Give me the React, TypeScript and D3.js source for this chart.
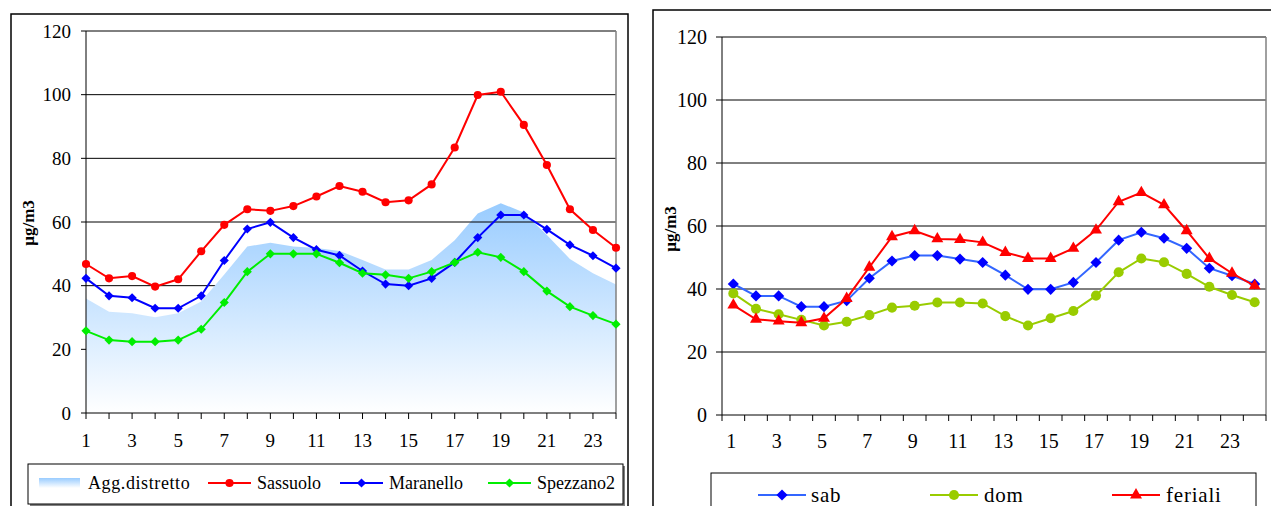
import React from "react";
import * as d3 from "d3";

const hours = d3.range(1, 25);
const yTicks = [0, 20, 40, 60, 80, 100, 120];
const xTickLabels = [1, 3, 5, 7, 9, 11, 13, 15, 17, 19, 21, 23];

// Left chart
const aggDistretto = [36.0, 31.8, 31.3, 30.1, 31.3, 35.0, 43.5, 52.3, 53.5, 52.3, 51.8, 50.9, 48.1, 45.1, 45.1, 48.1, 54.3, 62.7, 65.9, 63.0, 55.9, 48.4, 43.9, 40.4];
const sassuolo = [46.8, 42.3, 43.0, 39.7, 42.0, 50.8, 59.1, 64.0, 63.5, 65.0, 68.0, 71.3, 69.5, 66.2, 66.8, 71.8, 83.4, 99.9, 100.9, 90.5, 77.9, 64.0, 57.5, 51.9];
const maranello = [42.3, 36.8, 36.2, 32.9, 32.9, 36.8, 47.9, 57.8, 59.9, 55.1, 51.3, 49.5, 44.6, 40.5, 40.0, 42.3, 47.3, 55.1, 62.2, 62.2, 57.7, 52.8, 49.4, 45.5];
const spezzano2 = [25.8, 22.9, 22.4, 22.4, 22.9, 26.3, 34.7, 44.4, 50.0, 50.0, 50.0, 47.2, 43.9, 43.4, 42.3, 44.4, 47.3, 50.5, 48.9, 44.4, 38.3, 33.4, 30.6, 27.9];

// Right chart
const sab = [41.6, 37.8, 37.8, 34.4, 34.4, 36.3, 43.4, 48.9, 50.6, 50.6, 49.5, 48.4, 44.4, 39.9, 39.9, 42.1, 48.4, 55.5, 58.0, 56.1, 52.9, 46.6, 44.2, 41.6];
const dom = [38.6, 33.7, 32.0, 30.2, 28.4, 29.6, 31.7, 34.1, 34.7, 35.7, 35.7, 35.4, 31.4, 28.4, 30.7, 33.0, 37.9, 45.3, 49.7, 48.5, 44.8, 40.7, 38.1, 35.8];
const feriali = [34.9, 30.4, 29.8, 29.3, 30.7, 37.0, 46.9, 56.6, 58.5, 55.9, 55.7, 54.8, 51.6, 49.7, 49.7, 52.9, 58.7, 67.7, 70.6, 66.7, 58.5, 49.7, 45.0, 41.0];

const FONT = "'Liberation Serif', 'Times New Roman', serif";

function Marker({ type, x, y, color, size }: { type: string; x: number; y: number; color: string; size: number }) {
  if (type === "diamond") {
    const p = d3.symbol().type(d3.symbolSquare).size(size)();
    return <path d={p || ""} transform={`translate(${x},${y}) rotate(45)`} fill={color} />;
  }
  if (type === "triangle") {
    const p = d3.symbol().type(d3.symbolTriangle).size(size)();
    return <path d={p || ""} transform={`translate(${x},${y})`} fill={color} />;
  }
  const p = d3.symbol().type(d3.symbolCircle).size(size)();
  return <path d={p || ""} transform={`translate(${x},${y})`} fill={color} />;
}

function LeftChart() {
  const L = 86, R = 616, T = 31, B = 413;
  const x = d3.scalePoint<number>().domain(hours).range([L, R]).padding(0);
  const y = d3.scaleLinear().domain([0, 120]).range([B, T]);
  const line = d3.line<number>().x((_, i) => x(hours[i]) as number).y((d) => y(d));
  const area = d3.area<number>().x((_, i) => x(hours[i]) as number).y0(y(0)).y1((d) => y(d));
  const series = [
    { name: "Sassuolo", data: sassuolo, color: "#FF0000", marker: "circle", msize: 52, lx: 208 },
    { name: "Maranello", data: maranello, color: "#0000FF", marker: "diamond", msize: 42, lx: 340 },
    { name: "Spezzano2", data: spezzano2, color: "#00EE00", marker: "diamond", msize: 42, lx: 488 },
  ];
  const areaTop = y(d3.max(aggDistretto) as number);
  return (
    <g>
      <defs>
        <linearGradient id="aggGrad" gradientUnits="userSpaceOnUse" x1="0" y1={areaTop} x2="0" y2={B}>
          <stop offset="0" stopColor="#99CCFF" />
          <stop offset="1" stopColor="#FFFFFF" />
        </linearGradient>
        <linearGradient id="aggGradLeg" x1="0" y1="0" x2="0" y2="1">
          <stop offset="0" stopColor="#99CCFF" />
          <stop offset="1" stopColor="#FFFFFF" />
        </linearGradient>
      </defs>
      <rect x={11} y={14} width={617} height={520} fill="#fff" stroke="#000" strokeWidth={1.5} />
      {yTicks.filter((t) => t > 0 && t < 60).map((t) => (
        <line key={t} x1={L} x2={R} y1={y(t)} y2={y(t)} stroke="#000" strokeWidth={1} />
      ))}
      <path d={area(aggDistretto) || ""} fill="url(#aggGrad)" />
      {yTicks.filter((t) => t >= 60).map((t) => (
        <line key={t} x1={L} x2={R} y1={y(t)} y2={y(t)} stroke="#000" strokeWidth={1} />
      ))}
      <line x1={R} x2={R} y1={T} y2={B} stroke="#808080" strokeWidth={1.5} />
      <line x1={L} x2={L} y1={T} y2={B} stroke="#000" strokeWidth={1} />
      <line x1={L} x2={R} y1={B} y2={B} stroke="#000" strokeWidth={1} />
      {yTicks.map((t) => (
        <g key={t}>
          <line x1={L - 5} x2={L} y1={y(t)} y2={y(t)} stroke="#000" />
          <text x={71} y={y(t)} dy="0.35em" textAnchor="end" fontFamily={FONT} fontSize={19} fill="#000">{t}</text>
        </g>
      ))}
      {hours.map((h) => (
        <line key={h} x1={x(h)} x2={x(h)} y1={B} y2={B + 6} stroke="#000" />
      ))}
      {xTickLabels.map((h) => (
        <text key={h} x={x(h)} y={447} textAnchor="middle" fontFamily={FONT} fontSize={19} fill="#000">{h}</text>
      ))}
      {series.map((s) => (
        <g key={s.name}>
          <path d={line(s.data) || ""} fill="none" stroke={s.color} strokeWidth={2} />
          {s.data.map((v, i) => (
            <Marker key={i} type={s.marker} x={x(hours[i]) as number} y={y(v)} color={s.color} size={s.msize} />
          ))}
        </g>
      ))}
      <text transform={`translate(34,223) rotate(-90)`} textAnchor="middle" fontFamily={FONT} fontSize={17} fontWeight="bold" fill="#000">µg/m3</text>
      {/* legend */}
      <rect x={30} y={466} width={595} height={40} fill="#808080" />
      <rect x={28} y={464} width={595} height={40} fill="#fff" stroke="#000" strokeWidth={1} />
      <rect x={39} y={478} width={41} height={10} fill="url(#aggGradLeg)" />
      <text x={88} y={489} fontFamily={FONT} fontSize={18} letterSpacing={0.6} fill="#000">Agg.distretto</text>
      {series.map((s) => (
        <g key={s.name}>
          <line x1={s.lx} x2={s.lx + 43} y1={483} y2={483} stroke={s.color} strokeWidth={2} />
          <Marker type={s.marker} x={s.lx + 21.5} y={483} color={s.color} size={s.msize} />
          <text x={s.lx + 49} y={489} fontFamily={FONT} fontSize={18} fill="#000">{s.name}</text>
        </g>
      ))}
    </g>
  );
}

function RightChart() {
  const L = 722, R = 1266, T = 37, B = 415;
  const xb = d3.scaleBand<number>().domain(hours).range([L, R]).padding(0);
  const cx = (h: number) => (xb(h) as number) + xb.bandwidth() / 2;
  const y = d3.scaleLinear().domain([0, 120]).range([B, T]);
  const line = d3.line<number>().x((_, i) => cx(hours[i])).y((d) => y(d));
  const series = [
    { name: "sab", data: sab, color: "#3366FF", mcolor: "#0000FF", marker: "diamond", msize: 62, lx: 758, tx: 811 },
    { name: "dom", data: dom, color: "#99CC00", mcolor: "#99CC00", marker: "circle", msize: 80, lx: 930, tx: 984 },
    { name: "feriali", data: feriali, color: "#FF0000", mcolor: "#FF0000", marker: "triangle", msize: 62, lx: 1112, tx: 1166 },
  ];
  return (
    <g>
      <rect x={653} y={10} width={640} height={520} fill="#fff" stroke="#000" strokeWidth={1.5} />
      {yTicks.filter((t) => t > 0).map((t) => (
        <line key={t} x1={L} x2={R} y1={y(t)} y2={y(t)} stroke="#000" strokeWidth={1} />
      ))}
      <line x1={R} x2={R} y1={T} y2={B} stroke="#808080" strokeWidth={1.5} />
      <line x1={L} x2={L} y1={T} y2={B} stroke="#000" strokeWidth={1} />
      <line x1={L} x2={R} y1={B} y2={B} stroke="#000" strokeWidth={1} />
      {yTicks.map((t) => (
        <g key={t}>
          <line x1={L - 6} x2={L} y1={y(t)} y2={y(t)} stroke="#000" />
          <text x={707} y={y(t)} dy="0.35em" textAnchor="end" fontFamily={FONT} fontSize={20} fill="#000">{t}</text>
        </g>
      ))}
      {hours.concat([25]).map((h) => {
        const xx = h === 25 ? R : (xb(h) as number);
        return <line key={h} x1={xx} x2={xx} y1={B} y2={B + 6} stroke="#000" />;
      })}
      {xTickLabels.map((h) => (
        <text key={h} x={cx(h) - 2} y={448} textAnchor="middle" fontFamily={FONT} fontSize={20} fill="#000">{h}</text>
      ))}
      {series.map((s) => (
        <g key={s.name}>
          <path d={line(s.data) || ""} fill="none" stroke={s.color} strokeWidth={2} />
          {s.data.map((v, i) => (
            <Marker key={i} type={s.marker} x={cx(hours[i])} y={y(v)} color={s.mcolor} size={s.msize} />
          ))}
        </g>
      ))}
      <text transform={`translate(676,229) rotate(-90)`} textAnchor="middle" fontFamily={FONT} fontSize={17} fontWeight="bold" fill="#000">µg/m3</text>
      <rect x={711} y={473} width={545} height={50} fill="#fff" stroke="#000" strokeWidth={1} />
      {series.map((s) => (
        <g key={s.name}>
          <line x1={s.lx} x2={s.lx + 48} y1={495} y2={495} stroke={s.color} strokeWidth={2} />
          <Marker type={s.marker} x={s.lx + 24} y={495} color={s.mcolor} size={s.msize} />
          <text x={s.tx} y={502} fontFamily={FONT} fontSize={21} letterSpacing={0.8} fill="#000">{s.name}</text>
        </g>
      ))}
    </g>
  );
}

export default function App() {
  return (
    <svg width={1271} height={506} style={{ position: "absolute", left: 0, top: 0, background: "#fff" }}>
      <rect x={0} y={0} width={1271} height={506} fill="#fff" />
      <LeftChart />
      <RightChart />
    </svg>
  );
}
